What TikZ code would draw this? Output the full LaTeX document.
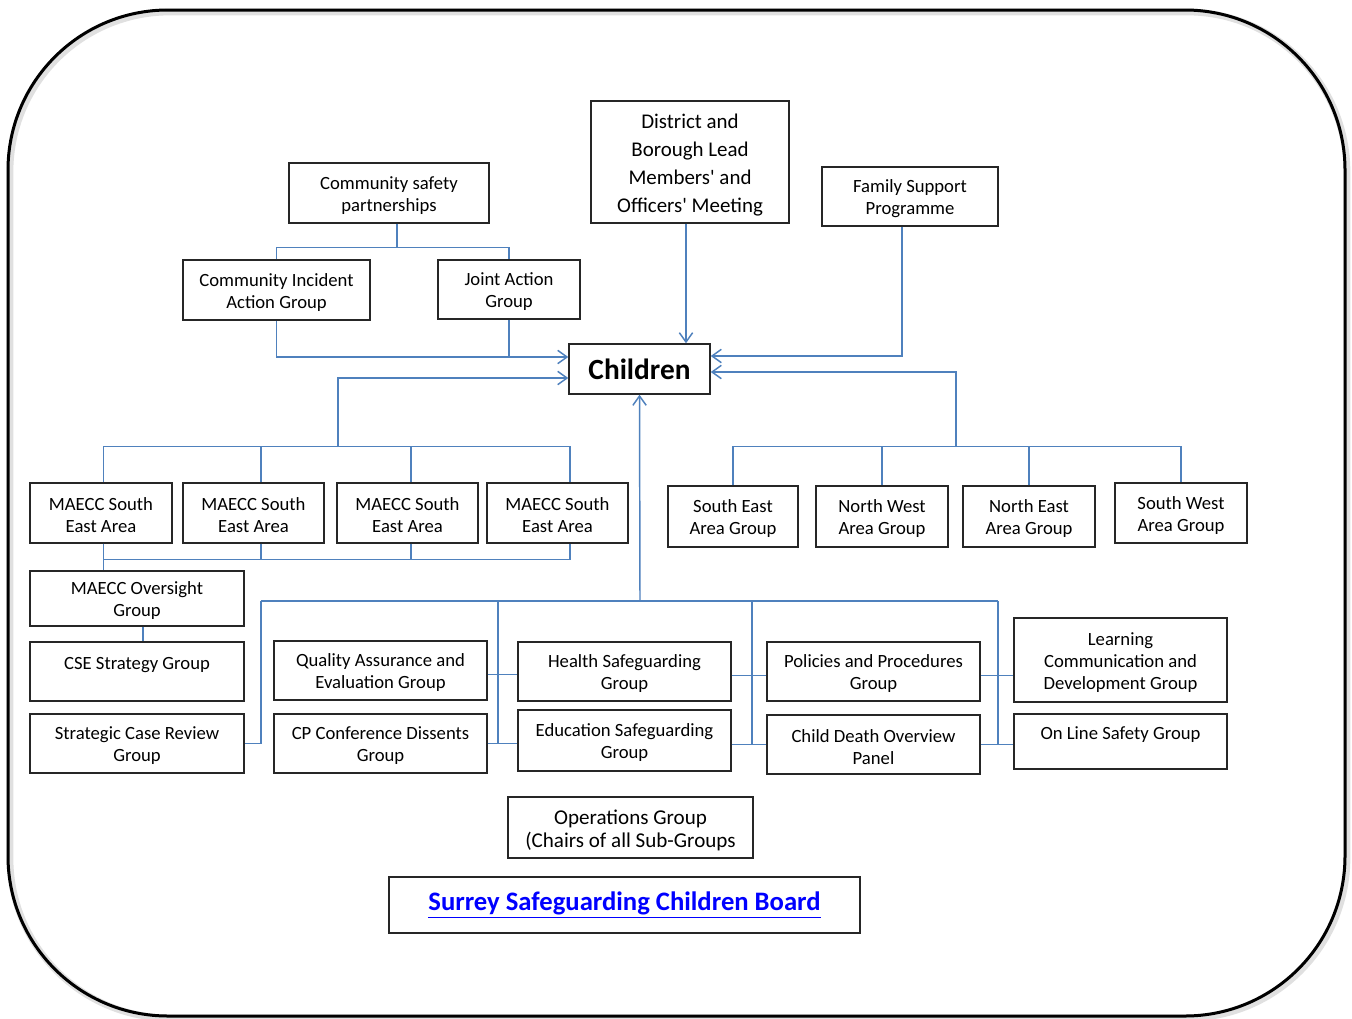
\documentclass[tikz,border=0pt]{standalone}
\usepackage{fontspec}
\setmainfont{Carlito}
\usetikzlibrary{arrows.meta,calc}
\definecolor{connblue}{HTML}{4F81BD}
\definecolor{linkblue}{HTML}{0000FF}
\definecolor{boxline}{HTML}{262626}
\newcommand\bxpre{}
\newcommand\bx[7][]{%
  \pgfmathsetmacro\bxcx{(#3+#5)/2}%
  \pgfmathsetmacro\bxcy{(#4+#6)/2}%
  \pgfmathsetmacro\bxw{(#5-#3)*0.75}%
  \pgfmathsetmacro\bxh{(#6-#4)*0.75}%
  \node[box,minimum width=\bxw pt,minimum height=\bxh pt,#1] (#2) at (\bxcx,\bxcy) {\bxpre#7};}
\newcommand\ap{\textquotesingle}
\begin{document}
\begin{tikzpicture}[x=0.75pt,y=-0.75pt,
  box/.style={draw=boxline,line width=1.1pt,fill=white,inner sep=0pt,align=center,
    font=\fontsize{14}{16.6}\selectfont,
    /utils/exec={\def\bxpre{\rule{0pt}{13.3pt}}}},
  bigtxt/.style={font=\fontsize{15.7}{21}\selectfont,
    /utils/exec={\def\bxpre{\rule{0pt}{14.8pt}}}},
  optxt/.style={font=\fontsize{15.8}{17.3}\selectfont,
    /utils/exec={\def\bxpre{\rule{0pt}{15pt}}}},
  chtxt/.style={font=\fontsize{22}{24}\selectfont\bfseries,
    /utils/exec={\def\bxpre{}}},
  linktxt/.style={font=\fontsize{20}{24}\selectfont\bfseries,
    /utils/exec={\def\bxpre{}}},
  conn/.style={draw=connblue,line width=1.1pt},
  arr/.style={-{Straight Barb[length=7pt,width=10pt]}},
  frame/.style={line width=2.25pt,rounded corners=120pt}]
\useasboundingbox (0,0) rectangle (1352,1018);
\fill[white] (0,0) rectangle (1352,1018);
% outer frame with soft shadow
\draw[frame,black!12,line width=5pt] (10,12) rectangle (1347,1018);
\draw[frame,black] (8,10) rectangle (1345,1016);

% boxes
\bx{csp}{289}{163}{489}{223}{Community safety\\partnerships}
\bx{ciag}{183}{260}{370}{320}{Community Incident\\Action Group}
\bx{jag}{438}{260}{580}{319}{Joint Action\\Group}
\bx[bigtxt]{dist}{591}{101}{789}{223}{District and\\Borough Lead\\Members\ap{} and\\Officers\ap{} Meeting}
\bx{fsp}{822}{167}{998}{226}{Family Support\\Programme}
\bx[chtxt]{children}{569}{344}{710}{394}{Children}

\bx{m1}{30}{483}{172}{543}{MAECC South\\East Area}
\bx{m2}{183}{483}{324}{543}{MAECC South\\East Area}
\bx{m3}{337}{483}{478}{543}{MAECC South\\East Area}
\bx{m4}{487}{483}{628}{543}{MAECC South\\East Area}

\bx{se}{668}{486}{798}{547}{South East\\Area Group}
\bx{nw}{816}{486}{948}{547}{North West\\Area Group}
\bx{ne}{963}{486}{1095}{547}{North East\\Area Group}
\bx{sw}{1115}{483}{1247}{543}{South West\\Area Group}

\bx{ov}{30}{571}{244}{626}{MAECC Oversight\\Group}
\bx{cse}{30}{642}{244}{701}{CSE Strategy Group\\\mbox{}}
\bx{scr}{30}{714}{244}{773}{Strategic Case Review\\Group}
\bx{qa}{274}{641}{487}{700}{Quality Assurance and\\Evaluation Group}
\bx{cp}{274}{714}{487}{773}{CP Conference Dissents\\Group}
\bx{hs}{518}{642}{731}{701}{Health Safeguarding\\Group}
\bx{edu}{518}{710}{731}{771}{Education Safeguarding\\Group}
\bx{pp}{767}{642}{980}{701}{Policies and Procedures\\Group}
\bx{cdop}{767}{715}{980}{774}{Child Death Overview\\Panel}
\bx{learn}{1014}{618}{1227}{702}{Learning\\Communication and\\Development Group}
\bx{online}{1014}{714}{1227}{769}{On Line Safety Group\\\mbox{}}

\bx[optxt]{ops}{508}{797}{753}{858}{Operations Group\\(Chairs of all Sub-Groups}
\bx[linktxt]{sscb}{389}{877}{860}{933}{\raisebox{3pt}{\color{linkblue}\underline{Surrey Safeguarding Children Board}}}

% junction coordinates
\coordinate (cin1) at ([yshift=9pt]children.west);
\coordinate (cin2) at ([yshift=-6.75pt]children.west);
\coordinate (cin3) at ([yshift=9.75pt]children.east);
\coordinate (cin4) at ([yshift=-2.25pt]children.east);
\coordinate (mbus) at (338,447);
\coordinate (abus) at (956,447);
\coordinate (bbus) at (640,601);
\coordinate (b1) at (261,601);
\coordinate (b2) at (498,601);
\coordinate (b3) at (752,601);
\coordinate (b4) at (998,601);

% community safety
\draw[conn] ([xshift=6pt]csp.south) -- ++(0,24) coordinate (cspj);
\draw[conn] (ciag.north) |- (cspj) -| (jag.north);
\draw[conn,arr] (ciag.south) |- (cin1);
\draw[conn] (jag.south) -- (jag.south |- cin1);

% district and family support
\draw[conn,arr] ([xshift=-3pt]dist.south) -- ([xshift=-3pt]dist.south |- children.north);
\draw[conn,arr] ([xshift=-6pt]fsp.south) |- (cin3);

% MAECC
\draw[conn] ([xshift=2pt]m1.north) -- ++(0,-36) -| ([xshift=9.4pt]m4.north);
\draw[conn] ([xshift=5.6pt]m2.north) -- ++(0,-36);
\draw[conn] ([xshift=2.6pt]m3.north) -- ++(0,-36);
\draw[conn,arr] (mbus) |- (cin2);
\draw[conn] ([xshift=2pt]m1.south) -- ++(0,16) -| ([xshift=9.4pt]m4.south);
\draw[conn] ([xshift=5.6pt]m2.south) -- ++(0,16);
\draw[conn] ([xshift=2.6pt]m3.south) -- ++(0,16);
\draw[conn] ([xshift=2pt]m1.south) -- ([xshift=2pt]m1.south |- ov.north);
\draw[conn] ([xshift=4.5pt]ov.south) -- ([xshift=4.5pt]ov.south |- cse.north);

% area groups
\draw[conn] (se.north) -- ++(0,-39) -| (sw.north);
\draw[conn] (nw.north) -- ++(0,-39);
\draw[conn] (ne.north) -- ++(0,-39);
\draw[conn,arr] (abus) |- (cin4);

% sub-groups
\draw[conn,arr] (bbus) -- (children.south);
\draw[conn] (b1) -- (b4);
\draw[conn] (b1) |- (scr.east);
\draw[conn] (b2) -- (b2 |- cp.east);
\draw[conn] (cp.east) -- (cp.east -| edu.west);
\draw[conn] ([yshift=-3pt]qa.east) -- ([yshift=-3pt]qa.east -| hs.west);
\draw[conn] (b3) -- (b3 |- cdop.west);
\draw[conn] (cdop.west -| edu.east) -- (cdop.west);
\draw[conn] ([yshift=-3pt]hs.east) -- ([yshift=-3pt]hs.east -| pp.west);
\draw[conn] (b4) -- (b4 |- cdop.east);
\draw[conn] (cdop.east) -- (cdop.east -| online.west);
\draw[conn] ([yshift=-3pt]pp.east) -- ([yshift=-3pt]pp.east -| learn.west);
\end{tikzpicture}
\end{document}
